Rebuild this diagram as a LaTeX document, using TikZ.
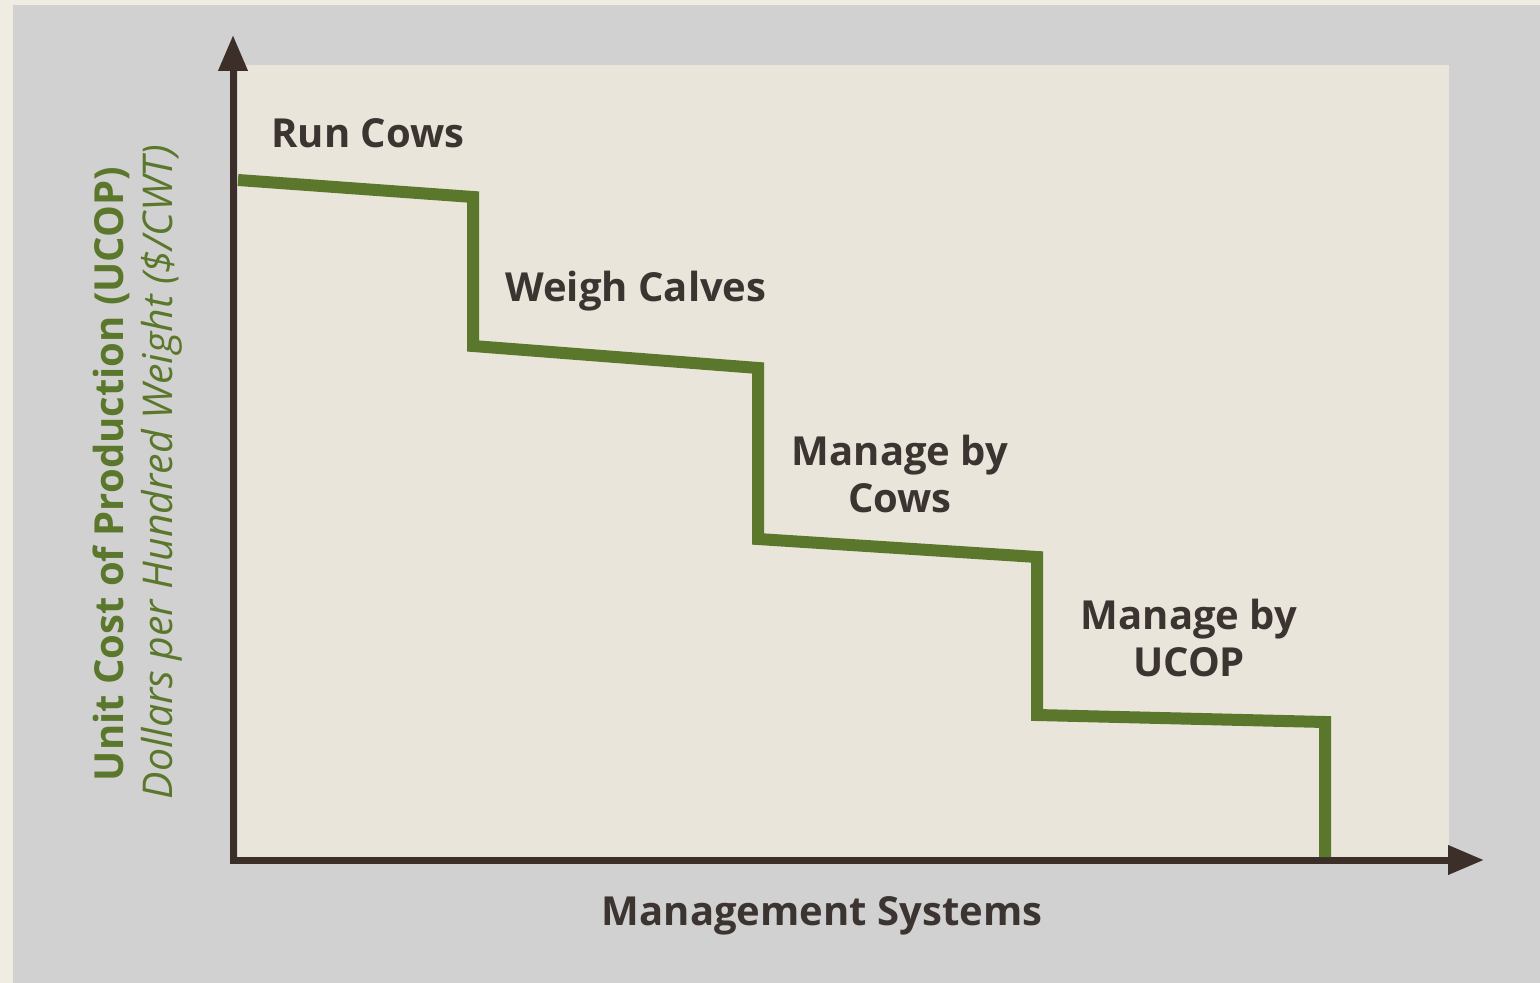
\documentclass[tikz,border=0pt]{standalone}
\usepackage{fontspec}
\setmainfont{Open Sans}
\usetikzlibrary{arrows.meta}

\definecolor{pagecream}{HTML}{EFECE2}
\definecolor{framegrey}{HTML}{D1D1D1}
\definecolor{plotcream}{HTML}{E9E5DB}
\definecolor{stepgreen}{HTML}{5A772B}
\definecolor{axisbrown}{HTML}{3C2F2A}
\definecolor{labeldark}{HTML}{3B3431}

\tikzset{
  axisline/.style={draw=axisbrown, line width=3.5pt,
    -{Triangle[length=18pt,width=14pt]}},
  stepline/.style={draw=stepgreen, line width=6pt, line join=miter},
  steplabel/.style={text=labeldark, inner sep=0pt, align=center,
    font=\fontsize{20}{23.5}\selectfont\bfseries},
  ytitle/.style={text=stepgreen, inner sep=0pt, rotate=90,
    font=\fontsize{20}{23.5}\selectfont\bfseries},
  ysubtitle/.style={ytitle, font=\fontsize{20.5}{23.5}\selectfont\itshape}
}

\begin{document}
\begin{tikzpicture}[x=0.5pt,y=-0.5pt]
    % background and frame
    \fill[pagecream] (0,0) rectangle (1540,983);
    \useasboundingbox (0,0) rectangle (1540,983);
    \fill[framegrey] (13,5) rectangle (1540,983);
    \fill[plotcream] (238,65) rectangle (1449,858);

    % axes
    \coordinate (origin) at (233,860);
    \coordinate (ytip) at (233,35);
    \coordinate (xtip) at (1484,860);
    \draw[axisline] ([yshift=-1.75pt]origin) -- (ytip);
    \draw[axisline] ([xshift=-1.75pt]origin) -- (xtip);

    % cost steps
    \draw[stepline] (238,180) -- (473,197) -- (473,346) -- (758,368)
      -- (758,539) -- (1037,557) -- (1037,715) -- (1325,722) -- (1325,857);

    \node[steplabel, anchor=base west] (runcows) at (271,148) {Run Cows};
    \node[steplabel, anchor=base west] (weighcalves) at (505,302) {Weigh Calves};
    \node[steplabel, anchor=base] (bycows) at (900,512) {Manage by\\Cows};
    \node[steplabel, anchor=base] (byucop) at (1189,676) {Manage by\\UCOP};

    % axis titles
    \node[steplabel, anchor=base] (xtitle) at (822,925) {Management Systems};
    \node[ytitle, anchor=base] (ucop) at (123,474) {Unit Cost of Production (UCOP)};
    \node[ysubtitle, anchor=base] (cwt) at (172,472) {Dollars per Hundred Weight (\$/CWT)};
\end{tikzpicture}
\end{document}
